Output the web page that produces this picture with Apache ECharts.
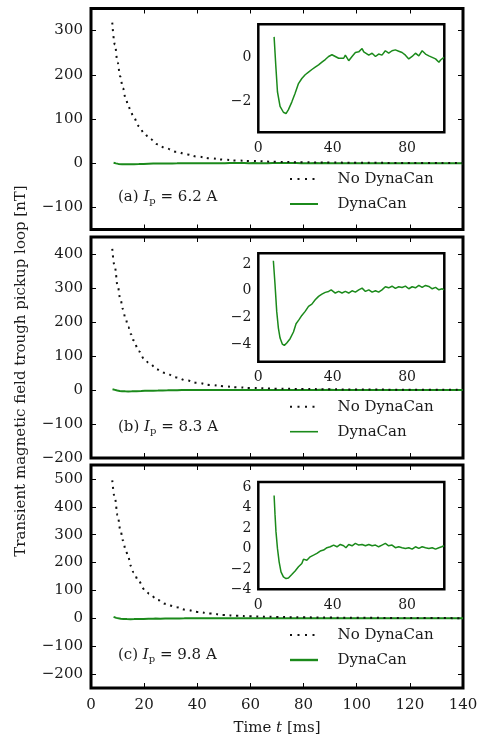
<!DOCTYPE html>
<html>
<head>
<meta charset="utf-8">
<script src="https://cdn.jsdelivr.net/npm/echarts@6/dist/echarts.min.js"></script>
<style>
html,body{margin:0;padding:0;background:#fff;}
#main{width:477px;height:742px;}
</style>
</head>
<body>
<div id="main"></div>
<script>
// "No DynaCan" decay
var tNo = [8, 9, 10, 11, 12, 13, 14, 15, 16, 18, 20, 22, 25, 28, 32, 36, 40, 45, 50, 55, 60, 70, 80, 90, 100, 120, 140];
var noA = [318, 268, 228, 196, 170, 148, 131, 116, 104, 84, 68, 56, 43, 34, 26, 20, 15, 11, 8, 6, 5, 3, 2, 1.5, 1, 0.5, 0.3];
var noB = [415, 360, 308, 270, 238, 210, 186, 165, 146, 114, 92, 78, 60, 50, 37, 28, 21, 15, 11, 8, 6, 4, 3, 2, 1.5, 0.8, 0.4];
var noC = [495, 430, 370, 320, 280, 248, 220, 188, 165, 132, 105, 88, 66, 52, 40, 30, 23, 17, 12, 9, 7, 5, 3.5, 2.5, 2, 1, 0.5];

// "DynaCan" residual
var tA = [8.5, 9.4, 10.3, 11.7, 13.5, 14.9, 16.2, 18, 19.8, 21.6, 23.4, 25.2, 27, 28.8, 30.6, 32.4, 34.2, 36, 37.8, 39.6, 41.4, 43.2, 44, 45.9, 46.8, 48.6, 50.4, 52.2, 54, 55.8, 56.7, 57.6, 59.4, 61.2, 63, 64.7, 66.5, 68.3, 70.1, 71.9, 73.7, 75.5, 77.3, 79.1, 80.9, 82.7, 84.5, 86.3, 88.1, 89.9, 91.7, 93.5, 95.3, 97.1, 98, 99.8];
var vA = [0.93, -0.37, -1.56, -2.22, -2.49, -2.55, -2.37, -2.03, -1.63, -1.19, -0.96, -0.79, -0.67, -0.55, -0.44, -0.34, -0.22, -0.10, 0.04, 0.12, 0.04, -0.04, 0.04, -0.04, 0.10, -0.15, 0.04, 0.22, 0.25, 0.40, 0.25, 0.34, 0.10, 0.19, 0.04, 0.15, 0.10, 0.30, 0.19, 0.30, 0.34, 0.28, 0.22, 0.10, -0.07, 0.04, 0.19, 0.07, 0.30, 0.15, 0.07, 0.00, -0.07, -0.22, -0.12, 0.00];
var tB = [8.1, 9.0, 9.9, 10.8, 11.7, 12.9, 14.0, 15.3, 17.1, 18.9, 20.3, 21.9, 23.4, 25.2, 27, 28.8, 30.6, 32.4, 34.2, 36, 37.8, 39.2, 41.4, 43.2, 45, 46.8, 48.6, 50.4, 52.2, 54, 55.8, 57.6, 59.4, 61.2, 63, 64.7, 66.5, 68.3, 70.1, 71.9, 73.7, 75.5, 77.3, 79.1, 80.9, 82.7, 84.5, 86.3, 88.1, 89.9, 91.7, 93.5, 95.3, 97.1, 98.9, 99.8];
var vB = [2.24, 0.45, -1.54, -2.79, -3.53, -3.98, -4.08, -3.90, -3.58, -3.08, -2.46, -2.16, -1.84, -1.54, -1.17, -1.00, -0.67, -0.42, -0.25, -0.12, -0.05, 0.07, -0.17, -0.05, -0.17, -0.05, -0.17, 0.00, -0.10, 0.07, 0.20, -0.05, 0.07, -0.10, 0.00, -0.10, 0.07, 0.30, 0.22, 0.34, 0.18, 0.30, 0.24, 0.35, 0.15, 0.30, 0.22, 0.40, 0.25, 0.40, 0.32, 0.15, 0.25, 0.07, 0.15, 0.07];
var tC = [8.5, 9.0, 9.5, 10.3, 11.2, 12.2, 13.5, 14.9, 16.2, 18, 19.8, 21.6, 23.4, 24.3, 26.1, 27.9, 29.7, 31.5, 33.3, 35.1, 36.9, 38.7, 40.5, 42.3, 44.1, 45.9, 47.1, 48.6, 50.4, 52.2, 54, 55.8, 57.6, 59.4, 61.2, 63, 64.7, 66.5, 68.3, 70.1, 71.9, 73.7, 75.5, 77.3, 79.1, 80.9, 82.7, 84.5, 86.3, 88.1, 89.9, 91.7, 93.5, 95.3, 97.1, 98.6, 99.8];
var vC = [5.18, 3.28, 1.64, 0.00, -1.31, -2.30, -2.79, -2.95, -2.89, -2.56, -2.20, -1.80, -1.48, -1.05, -1.15, -0.82, -0.66, -0.49, -0.26, -0.16, 0.07, 0.16, 0.33, 0.16, 0.39, 0.26, 0.07, 0.39, 0.26, 0.49, 0.33, 0.39, 0.26, 0.39, 0.26, 0.33, 0.16, 0.33, 0.49, 0.26, 0.33, 0.07, 0.16, 0.07, 0.00, 0.07, -0.07, 0.16, 0.00, 0.16, 0.07, 0.00, 0.07, -0.07, 0.07, 0.16, 0.26];
// rest of the DynaCan trace beyond the inset window (main panels only)
var tTail = [105, 110, 120, 130, 140];
var tailA = [0.1, 0.0, 0.1, -0.1, 0.0];
var tailB = [0.1, 0.2, 0.1, 0.1, 0.0];
var tailC = [0.1, 0.0, 0.1, 0.0, 0.1];

// axis ranges and tick labels
var mainX = [0, 140];
var mainXTicks = [0, 20, 40, 60, 80, 100, 120, 140];
var mainY = [[-150, 350], [-200, 450], [-250, 550]];
var mainYTicks = [[-100, 0, 100, 200, 300], [-200, -100, 0, 100, 200, 300, 400], [-200, -100, 0, 100, 200, 300, 400, 500]];
var insetX = [0, 100];
var insetXTicks = [0, 40, 80];
var insetY = [[-3.4, 1.5], [-5.3, 2.8], [-4, 6.5]];
var insetYTicks = [[-2, 0], [-4, -2, 0, 2], [-4, -2, 0, 2, 4, 6]];
var currents = ['6.2', '8.3', '9.8'];
var letters = ['a', 'b', 'c'];
var legendNames = ['No DynaCan', 'DynaCan'];

var FONT = 'DejaVu Serif';
var INK = '#1a1a1a';
var GREEN = '#1b8a1b';

function zip(t, v) { return t.map(function (x, i) { return [x, v[i]]; }); }
function minus(v) { return String(v).replace('-', '\u2212'); }

var mainTop = [8.5, 237, 465];
var mainH = [221, 221, 223];
var insetTop = [24.3, 253.3, 482];
var insetH = [108, 108.4, 107.3];

var grids = [], xAxes = [], yAxes = [], series = [], graphics = [];

function addAxes(gi, xr, xt, yr, yt, showX, showY, tickLen, labelSize, xName) {
  ['bottom', 'top'].forEach(function (pos) {
    var lab = pos === 'bottom' && showX;
    xAxes.push({
      gridIndex: gi, type: 'value', position: pos, min: xr[0], max: xr[1],
      axisLine: {show: false, onZero: false}, splitLine: {show: false},
      axisTick: {show: true, inside: true, length: tickLen, customValues: xt, lineStyle: {color: '#000', width: 1}},
      axisLabel: {show: lab, customValues: xt, formatter: minus, fontFamily: FONT, fontSize: labelSize, color: INK, margin: labelSize === 15 ? 10 : 9},
      name: (pos === 'bottom' && xName) ? xName : '',
      nameLocation: 'middle', nameGap: 33,
      nameTextStyle: {fontFamily: FONT, fontSize: 15, color: INK, rich: {i: {fontStyle: 'italic', fontFamily: FONT, fontSize: 15, color: INK}}}
    });
  });
  ['left', 'right'].forEach(function (pos) {
    var lab = pos === 'left' && showY;
    yAxes.push({
      gridIndex: gi, type: 'value', position: pos, min: yr[0], max: yr[1],
      axisLine: {show: false, onZero: false}, splitLine: {show: false},
      axisTick: {show: true, inside: true, length: tickLen, customValues: yt, lineStyle: {color: '#000', width: 1}},
      axisLabel: {show: lab, customValues: yt, formatter: minus, fontFamily: FONT, fontSize: labelSize, color: INK, margin: labelSize === 15 ? 8 : 7}
    });
  });
}

for (var p = 0; p < 3; p++) {
  grids.push({left: 91, top: mainTop[p], width: 372, height: mainH[p], outerBoundsMode: 'none', containLabel: false,
    show: true, borderColor: '#000', borderWidth: 3, backgroundColor: '#fff'});
}
for (var q = 0; q < 3; q++) {
  grids.push({left: 258.3, top: insetTop[q], width: 186, height: insetH[q], outerBoundsMode: 'none', containLabel: false,
    show: true, borderColor: '#000', borderWidth: 2.5, backgroundColor: '#fff', z: 5});
}
for (var i = 0; i < 3; i++) {
  addAxes(i, mainX, mainXTicks, mainY[i], mainYTicks[i], i === 2, true, 5, 15, i === 2 ? 'Time {i|t} [ms]' : '');
}
for (var j = 0; j < 3; j++) {
  addAxes(3 + j, insetX, insetXTicks, insetY[j], insetYTicks[j], true, true, 4, 14, '');
}

var noData = [noA, noB, noC];
var gT = [tA, tB, tC], gV = [vA, vB, vC], tails = [tailA, tailB, tailC];
var greenW = [2, 1.6, 2.4];
for (var k = 0; k < 3; k++) {
  series.push({
    name: 'No DynaCan', type: 'line', xAxisIndex: 2 * k, yAxisIndex: 2 * k,
    data: zip(tNo, noData[k]), symbol: 'none', smooth: 0.4, smoothMonotone: 'x',
    lineStyle: {color: '#111', width: 2, type: [2, 4.7]}, itemStyle: {color: '#111'}, z: 3
  });
  series.push({
    name: 'DynaCan', type: 'line', xAxisIndex: 2 * k, yAxisIndex: 2 * k,
    data: zip(gT[k].concat(tTail), gV[k].concat(tails[k])), symbol: 'none',
    lineStyle: {color: GREEN, width: 2}, itemStyle: {color: GREEN}, z: 2
  });
  series.push({
    name: 'DynaCan', type: 'line', xAxisIndex: 2 * (3 + k), yAxisIndex: 2 * (3 + k),
    data: zip(gT[k], gV[k]), symbol: 'none',
    lineStyle: {color: GREEN, width: 1.5}, itemStyle: {color: GREEN}, z: 6
  });
}

// legend samples and texts, one block per panel
var legendRow = [179, 406.7, 635];
for (var m = 0; m < 3; m++) {
  var y0 = legendRow[m], y1 = legendRow[m] + 25;
  graphics.push({type: 'line', z: 10, shape: {x1: 290, y1: y0, x2: 318, y2: y0},
    style: {stroke: '#111', lineWidth: 2, lineDash: [2, 5.5]}});
  graphics.push({type: 'line', z: 10, shape: {x1: 290, y1: y1, x2: 318, y2: y1},
    style: {stroke: GREEN, lineWidth: greenW[m]}});
  graphics.push({type: 'text', z: 10, x: 337.5, y: y0,
    style: {text: legendNames[0], fontFamily: FONT, fontSize: 15, fill: INK, verticalAlign: 'middle'}});
  graphics.push({type: 'text', z: 10, x: 337.5, y: y1,
    style: {text: legendNames[1], fontFamily: FONT, fontSize: 15, fill: INK, verticalAlign: 'middle'}});
}

var labelY = [199, 429, 657];
for (var n = 0; n < 3; n++) {
  graphics.push({
    type: 'text', left: 118, top: labelY[n] - 9, z: 10,
    style: {
      text: '(' + letters[n] + ') {i|I}{s|p} = ' + currents[n] + ' A',
      fontFamily: FONT, fontSize: 15, fill: INK,
      rich: {
        i: {fontStyle: 'italic', fontFamily: FONT, fontSize: 15, fill: INK},
        s: {fontFamily: FONT, fontSize: 10, fill: INK, padding: [8, 0, 0, 0]}
      }
    }
  });
}
graphics.push({
  type: 'text', x: 21, y: 371, rotation: Math.PI / 2, z: 10,
  style: {text: 'Transient magnetic field trough pickup loop [nT]', fontFamily: FONT, fontSize: 15, fill: INK, align: 'center', verticalAlign: 'middle'}
});

var chart = echarts.init(document.getElementById('main'));
chart.setOption({
  animation: false,
  backgroundColor: '#fff',
  grid: grids,
  xAxis: xAxes,
  yAxis: yAxes,
  series: series,
  graphic: graphics
});
</script>
</body>
</html>
